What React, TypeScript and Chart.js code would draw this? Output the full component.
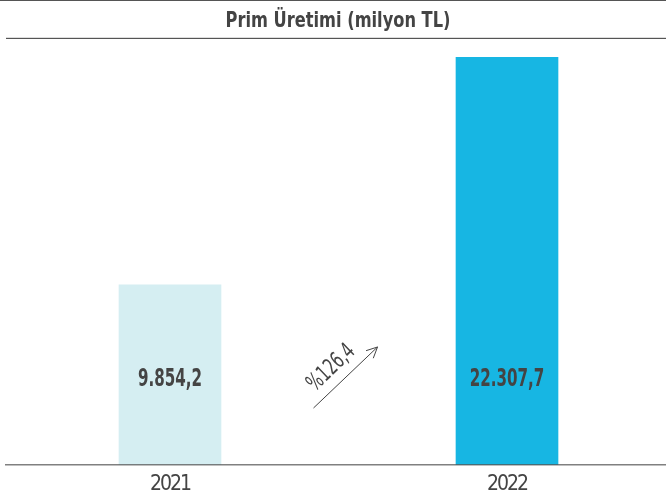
import React, { useEffect, useRef } from "react";
import { Chart, registerables } from "chart.js";
Chart.register(...registerables);

const chartTitle = "Prim Üretimi (milyon TL)";
const categories = ["2021", "2022"];
const values = [9854.2, 22307.7];
const valueLabels = ["9.854,2", "22.307,7"];
const barColors = ["#d5eef2", "#17b6e3"];
const changeLabel = "%126,4";

const FONT = "'DejaVu Sans Condensed', 'Liberation Sans Narrow', sans-serif";
const TEXT = "#444444";

function squeezedText(ctx: any, text: string, x: number, y: number, sx: number) {
  ctx.save();
  ctx.translate(x, y);
  ctx.scale(sx, 1);
  ctx.fillText(text, 0, 0);
  ctx.restore();
}

const decor = {
  id: "decor",
  beforeDraw(chart: any) {
    const ctx = chart.ctx;
    ctx.save();
    ctx.fillStyle = "#ffffff";
    ctx.fillRect(0, 0, chart.width, chart.height);
    ctx.fillStyle = "#555555";
    ctx.fillRect(0, 0, chart.width, 1);
    ctx.fillStyle = "#dddddd";
    ctx.fillRect(6, 37, chart.width - 6, 1);
    ctx.fillStyle = "#555555";
    ctx.fillRect(6, 38, chart.width - 6, 1);
    ctx.fillStyle = TEXT;
    ctx.font = `bold 22px ${FONT}`;
    ctx.textAlign = "center";
    ctx.textBaseline = "alphabetic";
    squeezedText(ctx, chartTitle, 338, 27, 0.82);
    ctx.restore();
    // narrower tick labels for the category axis
    ctx.letterSpacing = "-2px";
  },
  beforeDatasetsDraw(chart: any) {
    chart.ctx.letterSpacing = "0px";
  },
  afterDatasetsDraw(chart: any) {
    const ctx = chart.ctx;
    const area = chart.chartArea;
    const meta = chart.getDatasetMeta(0);
    ctx.save();
    ctx.letterSpacing = "0px";
    // axis line
    ctx.fillStyle = "rgba(85,85,85,0.75)";
    ctx.fillRect(5, area.bottom - 1, chart.width - 5, 1.5);
    // value labels
    ctx.fillStyle = TEXT;
    ctx.font = `bold 24px ${FONT}`;
    ctx.textAlign = "center";
    ctx.textBaseline = "alphabetic";
    meta.data.forEach((bar: any, i: number) => {
      squeezedText(ctx, valueLabels[i], bar.x, area.bottom - 79, 0.7);
    });
    // arrow
    const x0 = meta.data[0].x, x1 = meta.data[1].x;
    const mid = (x0 + x1) / 2;
    const sx = mid - 25, sy = area.bottom - 57;
    const ex = mid + 39, ey = area.bottom - 118;
    ctx.strokeStyle = "#444444";
    ctx.lineWidth = 1;
    ctx.beginPath();
    ctx.moveTo(sx, sy);
    ctx.lineTo(ex, ey);
    const ang = Math.atan2(ey - sy, ex - sx);
    const hl = 12;
    ctx.moveTo(ex + hl * Math.cos(ang + Math.PI - 0.45), ey + hl * Math.sin(ang + Math.PI - 0.45));
    ctx.lineTo(ex, ey);
    ctx.lineTo(ex + hl * Math.cos(ang + Math.PI + 0.45), ey + hl * Math.sin(ang + Math.PI + 0.45));
    ctx.stroke();
    // percent label
    ctx.translate(mid - 7, area.bottom - 97);
    ctx.rotate(ang);
    ctx.font = `23px ${FONT}`;
    ctx.textBaseline = "middle";
    ctx.scale(0.72, 1);
    ctx.fillText(changeLabel, 0, 0);
    ctx.restore();
  },
};

export default function App() {
  const ref = useRef<HTMLCanvasElement | null>(null);
  useEffect(() => {
    if (!ref.current) return;
    const chart = new Chart(ref.current, {
      type: "bar",
      data: {
        datasets: [
          {
            data: categories.map((c, i) => ({ x: i, y: values[i] })) as any,
            backgroundColor: barColors,
            barThickness: 102,
            borderWidth: 0,
          },
        ],
      },
      options: {
        responsive: false,
        animation: false,
        devicePixelRatio: 1,
        layout: { padding: { top: 57, left: 0, right: 0, bottom: 0 } },
        plugins: { legend: { display: false }, title: { display: false }, tooltip: { enabled: false } },
        scales: {
          x: {
            type: "linear",
            offset: false,
            bounds: "ticks",
            min: -170 / 337,
            max: -170 / 337 + 666 / 337,
            grid: { display: false, drawTicks: false, offset: false },
            border: { display: false },
            afterBuildTicks: (scale: any) => {
              scale.ticks = categories.map((_, i) => ({ value: i }));
            },
            afterFit: (scale: any) => {
              scale.height = 37;
            },
            ticks: {
              padding: 7,
              color: TEXT,
              font: { family: FONT, size: 21 },
              callback: (v: any) => categories[v as number] ?? "",
              maxRotation: 0,
              autoSkip: false,
            },
          },
          y: {
            display: false,
            min: 0,
            max: 22307.7,
          },
        },
      },
      plugins: [decor],
    });
    return () => chart.destroy();
  }, []);
  return (
    <div style={{ position: "fixed", left: 0, top: 0, width: 666, height: 502, background: "#fff" }}>
      <canvas ref={ref} width={666} height={502} style={{ display: "block", width: 666, height: 502 }} />
    </div>
  );
}
